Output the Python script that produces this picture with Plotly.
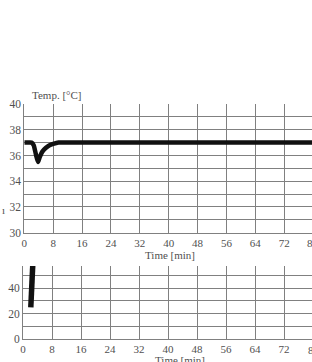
import plotly.graph_objects as go

# Top chart: temperature
time_top = [0, 1, 2, 2.6, 3.2, 3.8, 4.3, 5, 6, 7, 8, 9.5, 12, 20, 40, 60, 80]
temp_top = [37, 37, 37, 36.8, 36.1, 35.5, 35.9, 36.3, 36.6, 36.8, 36.9, 37, 37, 37, 37, 37, 37]

# Bottom chart
time_bot = [2.15, 2.3, 2.45, 2.65, 2.8]
val_bot = [25, 35, 45, 57, 65]

x_ticks = [0, 8, 16, 24, 32, 40, 48, 56, 64, 72]
y_top_ticks = [30, 32, 34, 36, 38, 40]
y_bot_ticks = [0, 20, 40]

W, H = 312, 362
FONT = "Liberation Serif"
TXT = "#505050"
GRID = "#808080"

def py(px):
    return 1 - px / H

fig = go.Figure()
fig.add_trace(go.Scatter(x=time_top, y=temp_top, mode="lines",
                         line=dict(color="#111111", width=4.5, shape="spline", smoothing=0.6),
                         xaxis="x", yaxis="y", showlegend=False))
fig.add_trace(go.Scatter(x=time_bot, y=val_bot, mode="lines",
                         line=dict(color="#111111", width=5.5),
                         xaxis="x2", yaxis="y2", showlegend=False))

xcommon = dict(range=[0, 79.7], tickvals=x_ticks, showgrid=True, gridcolor=GRID, gridwidth=1,
               showline=True, linecolor=GRID, linewidth=1, zeroline=False, ticks="",
               tickfont=dict(family=FONT, size=11, color=TXT), automargin=False)

fig.update_layout(
    width=W, height=H,
    margin=dict(l=0, r=0, t=0, b=0),
    paper_bgcolor="white", plot_bgcolor="white",
    xaxis=dict(domain=[24.3 / W, 1], anchor="y", **xcommon),
    xaxis2=dict(domain=[23 / W, 1], anchor="y2", **xcommon),
    yaxis=dict(domain=[py(232.7), py(104)], anchor="x", range=[30, 40], tickvals=y_top_ticks,
               showgrid=True, gridcolor=GRID, gridwidth=1, zeroline=False, ticks="",
               minor=dict(dtick=1, showgrid=True, gridcolor=GRID, gridwidth=1),
               showline=True, linecolor=GRID, linewidth=1,
               tickfont=dict(family=FONT, size=11.5, color=TXT), automargin=False,
               ticklabelstandoff=0),
    yaxis2=dict(domain=[py(339), py(266)], anchor="x2", range=[0, 57.5], tickvals=y_bot_ticks,
                showgrid=True, gridcolor=GRID, gridwidth=1, zeroline=False, ticks="",
                minor=dict(dtick=10, showgrid=True, gridcolor=GRID, gridwidth=1),
                showline=True, linecolor=GRID, linewidth=1,
                tickfont=dict(family=FONT, size=11.5, color=TXT), automargin=False,
                ticklabelstandoff=0),
)

ann = dict(showarrow=False, font=dict(family=FONT, size=11, color=TXT),
           xref="paper", yref="paper")
fig.add_annotation(text="Temp. [°C]", x=30 / W, y=py(95), xanchor="left", yanchor="middle", **ann)
fig.add_annotation(text="Time [min]", x=170 / W, y=py(255), xanchor="center", yanchor="middle", **ann)
fig.add_annotation(text="Time [min]", x=180 / W, y=py(360), xanchor="center", yanchor="middle", **ann)
fig.add_annotation(text="80", x=(24.3 + 80 * 3.61) / W, y=py(243), xanchor="center", yanchor="middle", **ann)
fig.add_annotation(text="80", x=(23 + 80 * 3.64) / W, y=py(350), xanchor="center", yanchor="middle", **ann)
fig.add_annotation(text="ı", x=3 / W, y=py(210), xanchor="center", yanchor="middle", **ann)

fig.write_html("out.html", config={"displayModeBar": False},
               post_script="document.body.style.margin='0px';")
